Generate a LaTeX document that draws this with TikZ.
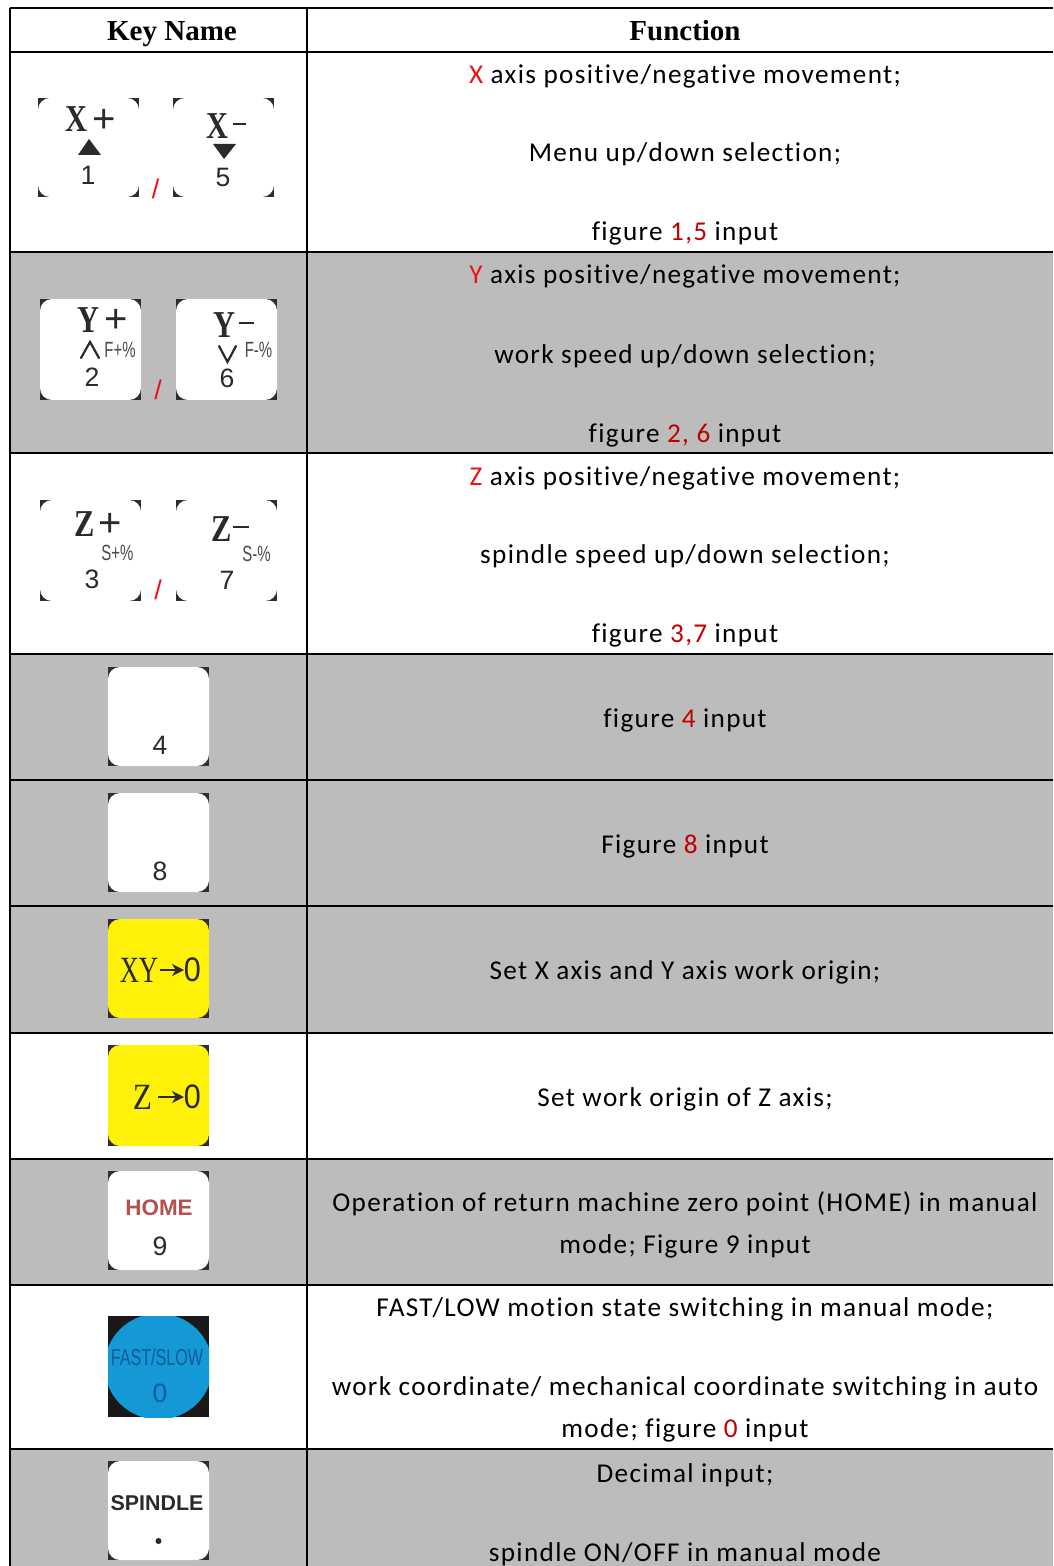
\documentclass[tikz,border=0pt]{standalone}
\usepackage{fontspec}
\usetikzlibrary{arrows.meta}
\setmainfont{Carlito}[LetterSpace=4.9,Ligatures=NoCommon]
\newfontfamily\hdfont{Liberation Serif}
\newfontfamily\capsans{Liberation Sans}
\definecolor{rowgray}{HTML}{BCBCBC}
\definecolor{redA}{HTML}{F01018}
\definecolor{redB}{HTML}{C00000}
\definecolor{capdark}{HTML}{2E2E2E}
\definecolor{capyellow}{HTML}{FFF10A}
\definecolor{capblue}{HTML}{1499D6}
\definecolor{capink}{HTML}{2A2A2A}
\definecolor{homered}{HTML}{B5504F}
\definecolor{blueink}{HTML}{0E5C9A}
\newcommand{\ra}[1]{\textcolor{redA}{#1}}
\newcommand{\rb}[1]{\textcolor{redB}{#1}}
\newcommand{\capkey}[5]{%
  \fill[capdark] (#1,#2) rectangle (#3,#4);
  \fill[#5,rounded corners=6pt] (#1,#2) rectangle (#3,#4);
}
\tikzset{
  x=0.5pt,y=-0.5pt,
  grid/.style={line width=1pt,black},
  fn/.style={anchor=base,inner sep=0pt,yshift=-0.3pt,font=\fontsize{13.6}{15}\selectfont,text=black},
  head/.style={anchor=base,inner sep=0pt,yshift=-0.4pt,font=\hdfont\bfseries\fontsize{14.5}{16}\selectfont},
  big/.style={inner sep=0pt,text=capink,xscale=0.8,font=\hdfont\bfseries\fontsize{19}{20}\selectfont},
  bigplus/.style={inner sep=0pt,text=capink,font=\capsans\fontsize{20}{22}\selectfont},
  num/.style={inner sep=0pt,text=capink,font=\capsans\fontsize{13.3}{16}\selectfont},
  zero/.style={inner sep=0pt,text=capink,xscale=0.9,font=\capsans\fontsize{17}{18}\selectfont},
  tiny/.style={inner sep=0pt,text=capink!85,xscale=0.68,font=\capsans\fontsize{11}{12}\selectfont},
  slash/.style={inner sep=0pt,text=redA,font=\capsans\fontsize{13.5}{15}\selectfont},
  thin serif/.style={inner sep=0pt,text=capink,font=\hdfont\fontsize{18.5}{20}\selectfont},
  capmark/.style={capink,line width=1.1pt,line cap=round},
  keyarrow/.style={capink,line width=1.4pt,-{Stealth[length=6pt,width=6pt]}},
}
\begin{document}
\begin{tikzpicture}
\useasboundingbox (0,0) rectangle (1053,1566);
% row shading
\fill[white] (0,0) rectangle (1053,1566);
\fill[rowgray] (10,252) rectangle (1053,453);
\fill[rowgray] (10,654) rectangle (1053,1033);
\fill[rowgray] (10,1159) rectangle (1053,1285);
\fill[rowgray] (10,1449) rectangle (1053,1566);
% grid
\foreach \yy in {8,52,252,453,654,780,906,1033,1159,1285,1449}
  \draw[grid] (10,\yy) -- (1053,\yy);
\draw[grid] (10,8) -- (10,1566);
\draw[grid] (307,8) -- (307,1566);
% header
\node[head] (h1) at (172,40) {Key Name};
\node[head] (h2) at (685,40) {Function};
% key caps
\capkey{38}{98}{139}{197}{white}
\node[big] (kx) at (76.5,119.5) {X};
\node[bigplus] (kxp) at (104,120.5) {+};
\fill[capink] (78,155) -- (89,139) -- (101,155) -- cycle;
\node[num] (k1) at (88,175) {1};
\node[slash] (s1) at (155.5,188.5) {/};
\capkey{173}{98}{274}{197}{white}
\node[big] (kxm) at (217.5,126) {X};
\fill[capink] (233,123) rectangle (246,125);
\fill[capink] (213,144) -- (236,144) -- (224,159) -- cycle;
\node[num] (k5) at (223,177) {5};

\capkey{40}{299}{141}{400}{white}
\node[big] (ky) at (88,320.5) {Y};
\node[bigplus] (kyp) at (116,321) {+};
\draw[capmark] (81,358) -- (90,342) -- (99,358);
\node[tiny] (kfp) at (120,350) {F+\%};
\node[num] (k2) at (92,377) {2};
\node[slash] (s2) at (158,389.5) {/};
\capkey{176}{299}{277}{400}{white}
\node[big] (kym) at (224,325) {Y};
\fill[capink] (239,322) rectangle (254,324);
\draw[capmark] (219,346) -- (227.5,362) -- (236,346);
\node[tiny] (kfm) at (258.5,350) {F-\%};
\node[num] (k6) at (227,378) {6};

\capkey{40}{500}{141}{601}{white}
\node[big] (kz) at (84.5,524.5) {Z};
\node[bigplus] (kzp) at (110,525) {+};
\node[tiny] (ksp) at (117.5,553) {S+\%};
\node[num] (k3) at (92,579) {3};
\node[slash] (s3) at (158,590) {/};
\capkey{176}{500}{277}{601}{white}
\node[big] (kzm) at (222,529) {Z};
\fill[capink] (233,526) rectangle (249,528);
\node[tiny] (ksm) at (256.5,554) {S-\%};
\node[num] (k7) at (227,580) {7};

\capkey{108}{667}{209}{766}{white}
\node[num] (k4) at (160,745) {4};
\capkey{108}{793}{209}{892}{white}
\node[num] (k8) at (160,871) {8};

\capkey{108}{919}{209}{1018}{capyellow}
\node[thin serif,xscale=0.72] (kxy) at (139,970) {XY};
\coordinate (axy1) at (160,970);
\coordinate (axy2) at (184,970);
\draw[keyarrow] (axy1) -- (axy2);
\node[zero] (kxy0) at (192.5,970) {0};

\capkey{108}{1045}{209}{1146}{capyellow}
\node[thin serif,xscale=0.85] (kzz) at (142.5,1097) {Z};
\coordinate (az1) at (158,1097);
\coordinate (az2) at (184,1097);
\draw[keyarrow] (az1) -- (az2);
\node[zero] (kz0) at (192.5,1097) {0};

\capkey{108}{1171}{209}{1270}{white}
\node[inner sep=0pt,text=homered,font=\capsans\bfseries\fontsize{11.2}{13}\selectfont] (khome) at (159,1208) {HOME};
\node[num] (k9) at (160,1246) {9};

\fill[black!90] (108,1316) rectangle (209,1417);
\begin{scope}
  \clip (108,1316) rectangle (209,1417);
  \fill[capblue] (158.5,1366.5) ellipse [x radius=54,y radius=53];
\end{scope}
\node[inner sep=0pt,text=blueink,xscale=0.7,font=\capsans\fontsize{11.5}{12}\selectfont] (kfast) at (157,1357) {FAST/SLOW};
\node[num,text=blueink] (k0) at (160,1393) {0};

\capkey{108}{1461}{209}{1560}{white}
\node[inner sep=0pt,text=capink,font=\capsans\bfseries\fontsize{10.7}{13}\selectfont] (kspin) at (157,1503) {SPINDLE};
\fill[capink] (158.5,1541) circle [radius=3];

% function text
\node[fn] (a1) at (685,83) {\ra{X} axis positive/negative movement;};
\node[fn] (a2) at (685,161) {Menu up/down selection;};
\node[fn] (a3) at (685,240) {figure \rb{1,5} input};
\node[fn] (b1) at (685,283) {\ra{Y} axis positive/negative movement;};
\node[fn] (b2) at (685,363) {work speed up/down selection;};
\node[fn] (b3) at (685,442) {figure \rb{2, 6} input};
\node[fn] (c1) at (685,485) {\ra{Z} axis positive/negative movement;};
\node[fn] (c2) at (685,563) {spindle speed up/down selection;};
\node[fn] (c3) at (685,642) {figure \rb{3,7} input};
\node[fn] (d1) at (685,727) {figure \rb{4} input};
\node[fn] (e1) at (685,853) {Figure \rb{8} input};
\node[fn] (f1) at (685,979) {Set X axis and Y axis work origin;};
\node[fn] (g1) at (685,1106) {Set work origin of Z axis;};
\node[fn] (h3) at (685,1211) {Operation of return machine zero point (HOME) in manual};
\node[fn] (h4) at (685,1253) {mode; Figure 9 input};
\node[fn] (i1) at (685,1316) {FAST/LOW motion state switching in manual mode;};
\node[fn] (i2) at (685,1395) {work coordinate/ mechanical coordinate switching in auto};
\node[fn] (i3) at (685,1437) {mode; figure \rb{0} input};
\node[fn] (j1) at (685,1482) {Decimal input;};
\node[fn] (j2) at (685,1561) {spindle ON/OFF in manual mode};
\end{tikzpicture}
\end{document}
